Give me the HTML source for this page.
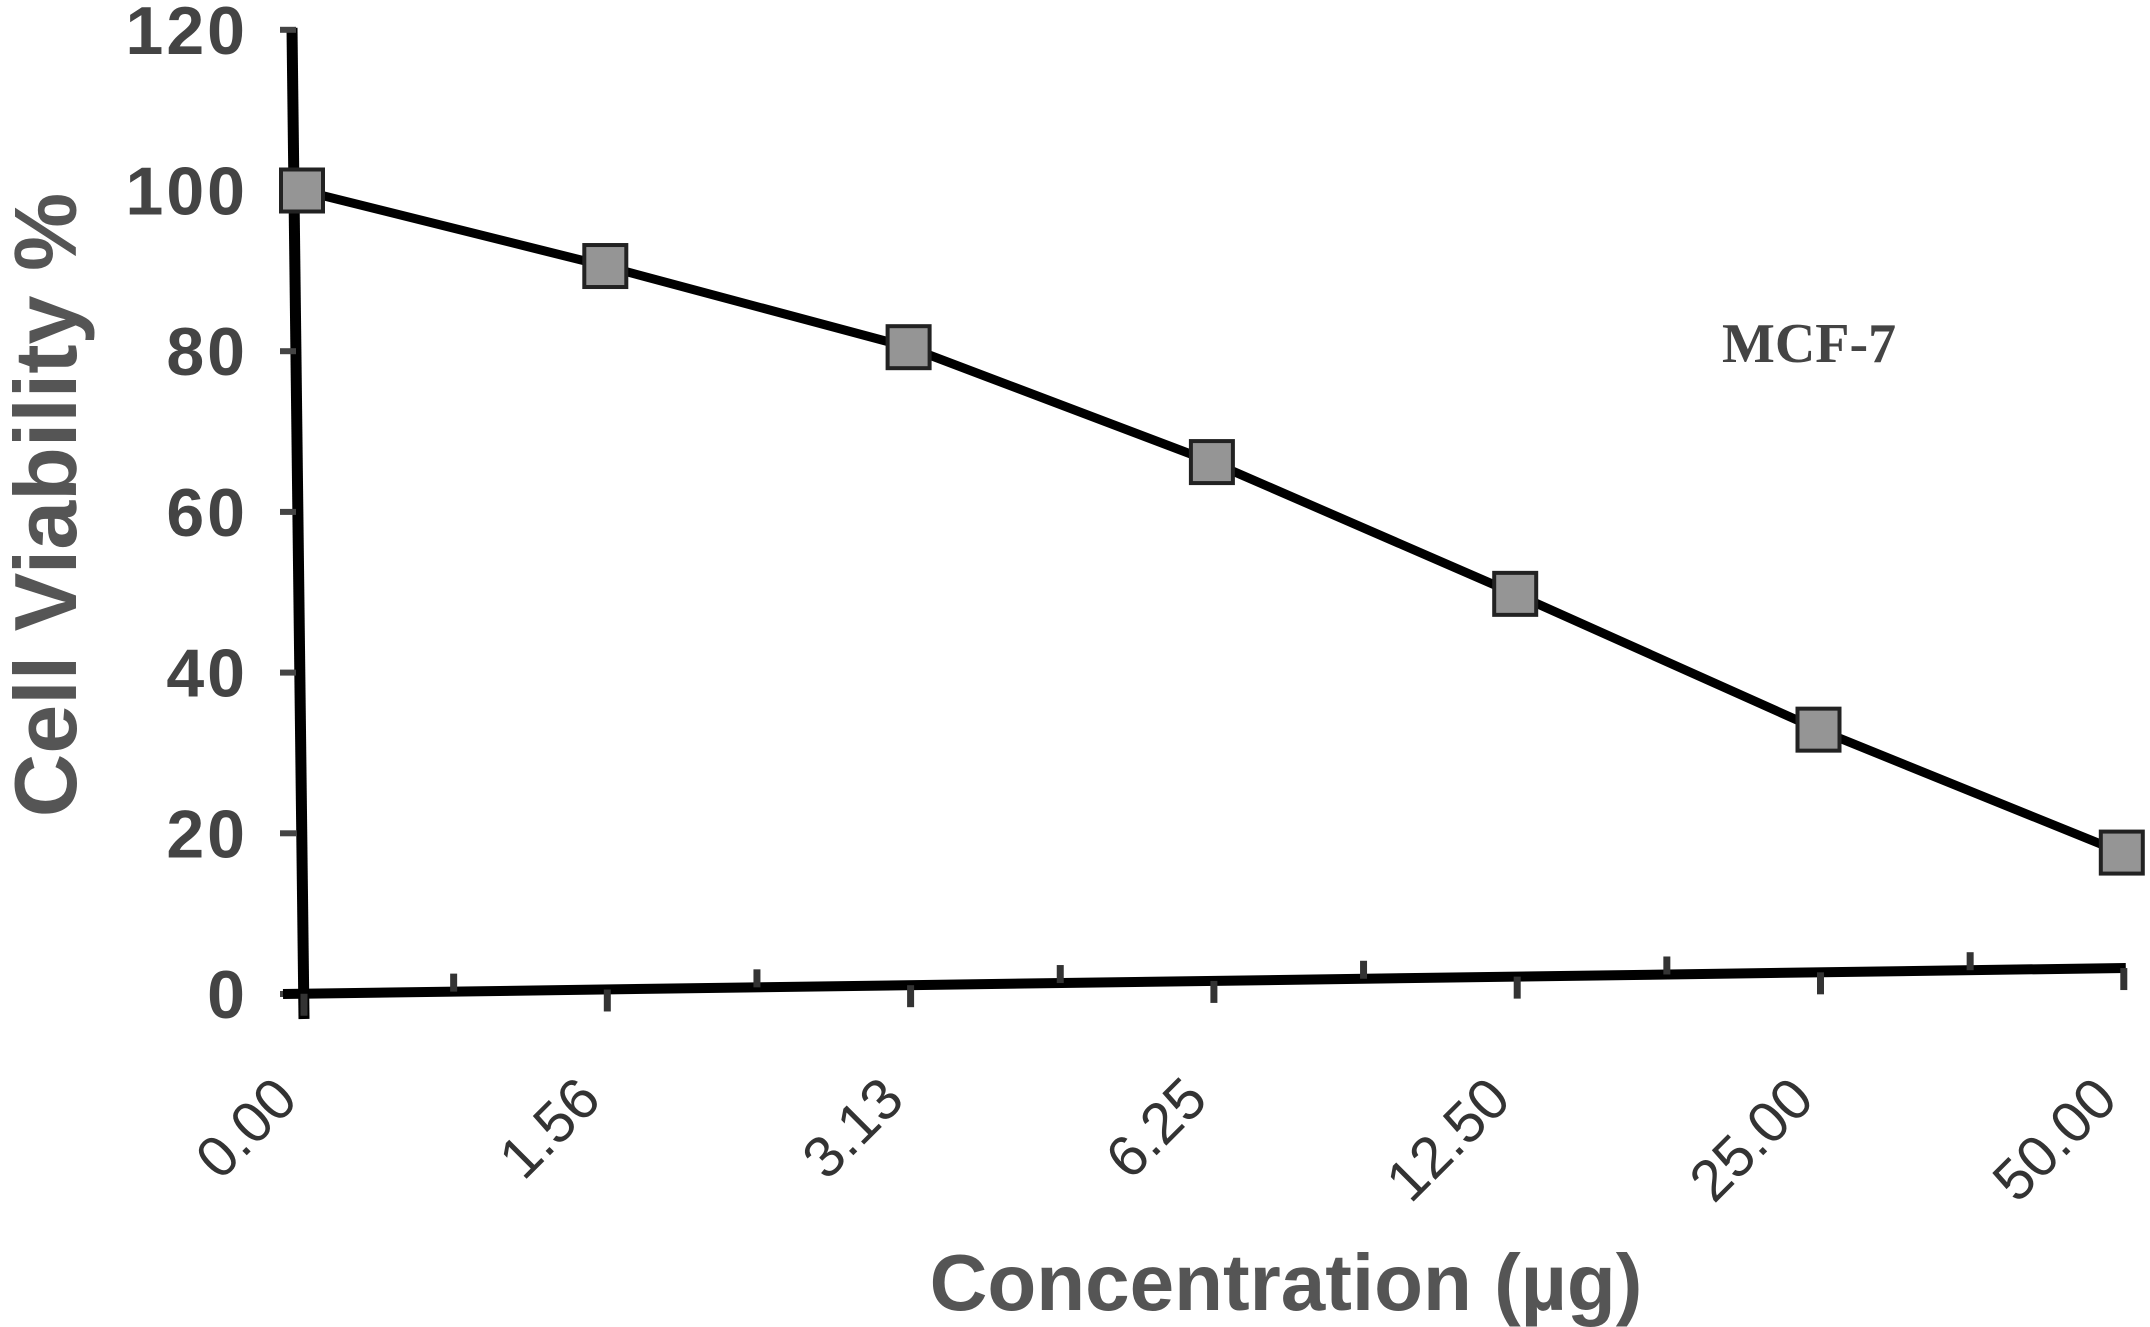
<!DOCTYPE html>
<html><head><meta charset="utf-8"><style>
html,body{margin:0;padding:0;background:#fff;}
svg{display:block;font-family:"Liberation Sans",Arial,sans-serif;}
</style></head><body>
<svg id="chart" width="2150" height="1327" viewBox="0 0 2150 1327" xmlns="http://www.w3.org/2000/svg">
<g id="axes"></g>
<g id="series"></g>
<text x="0" y="0" transform="translate(76,505) rotate(-90)" text-anchor="middle" font-size="88" fill="#555" font-weight="bold">Cell Viability %</text>
<text x="1286" y="1310" text-anchor="middle" font-size="80" fill="#555" font-weight="bold">Concentration (µg)</text>
<text x="1722" y="362" font-family="'Liberation Serif',serif" font-weight="bold" font-size="56" fill="#444">MCF-7</text>
</svg>
<script>
const categories = ["0.00","1.56","3.13","6.25","12.50","25.00","50.00"];
const viability = [100, 90.6, 80.5, 66.2, 49.8, 32.9, 17.6];
const yTicks = [0,20,40,60,80,100,120];

const NS="http://www.w3.org/2000/svg";
const x0=302, xStep=303.3, y0=994, yPer=8.035;
const xScale=i=>x0+i*xStep;
const yScale=v=>y0-v*yPer;
function mk(tag,attrs,parent){const e=document.createElementNS(NS,tag);for(const k in attrs)e.setAttribute(k,attrs[k]);parent.appendChild(e);return e;}
const axes=document.getElementById('axes'), series=document.getElementById('series');

let ya=mk('line',{x1:292,y1:yScale(120)-2,x2:304,y2:y0+25,stroke:'#000','stroke-width':11},axes);


yTicks.forEach(t=>{
  const y=yScale(t);
  let tk=mk('line',{x1:280,y1:y,x2:296,y2:y,stroke:'#444','stroke-width':6},axes);
  
  
  let lb=mk('text',{x:248,y:y+24,'text-anchor':'end','font-size':68,'font-weight':'bold',fill:'#444','letter-spacing':3},axes);
  lb.textContent=t;
  
  
});
const xEnd=xScale(categories.length-1)+4;
const axY=x=>994-(x-285)/(xEnd-285)*26;
let xa=mk('line',{x1:283,y1:axY(283),x2:xEnd,y2:axY(xEnd),stroke:'#000','stroke-width':10},axes);


categories.forEach((c,i)=>{
  const x=xScale(i);
  let tk=mk('line',{x1:x+2,y1:axY(x),x2:x+2,y2:axY(x)+22,stroke:'#333','stroke-width':7},axes);
  
  
  if(i<categories.length-1){
    const xm=x+xStep/2;
    let mt=mk('line',{x1:xm,y1:axY(xm),x2:xm,y2:axY(xm)-18,stroke:'#333','stroke-width':7},axes);
    
    
  }
  let lb=mk('text',{x:0,y:0,transform:`translate(${x-2},${1102}) rotate(-45)`,'text-anchor':'end','font-size':58,fill:'#333'},axes);
  lb.textContent=c;
  
  
});
const pts=viability.map((v,i)=>xScale(i)+','+yScale(v)).join(' ');
let pl=mk('polyline',{points:pts,fill:'none',stroke:'#000','stroke-width':9},series);


viability.forEach((v,i)=>{
  let r=mk('rect',{x:xScale(i)-21,y:yScale(v)-21,width:42,height:42,fill:'#959595',stroke:'#222','stroke-width':4},series);
  
  
});
</script>
</body></html>
